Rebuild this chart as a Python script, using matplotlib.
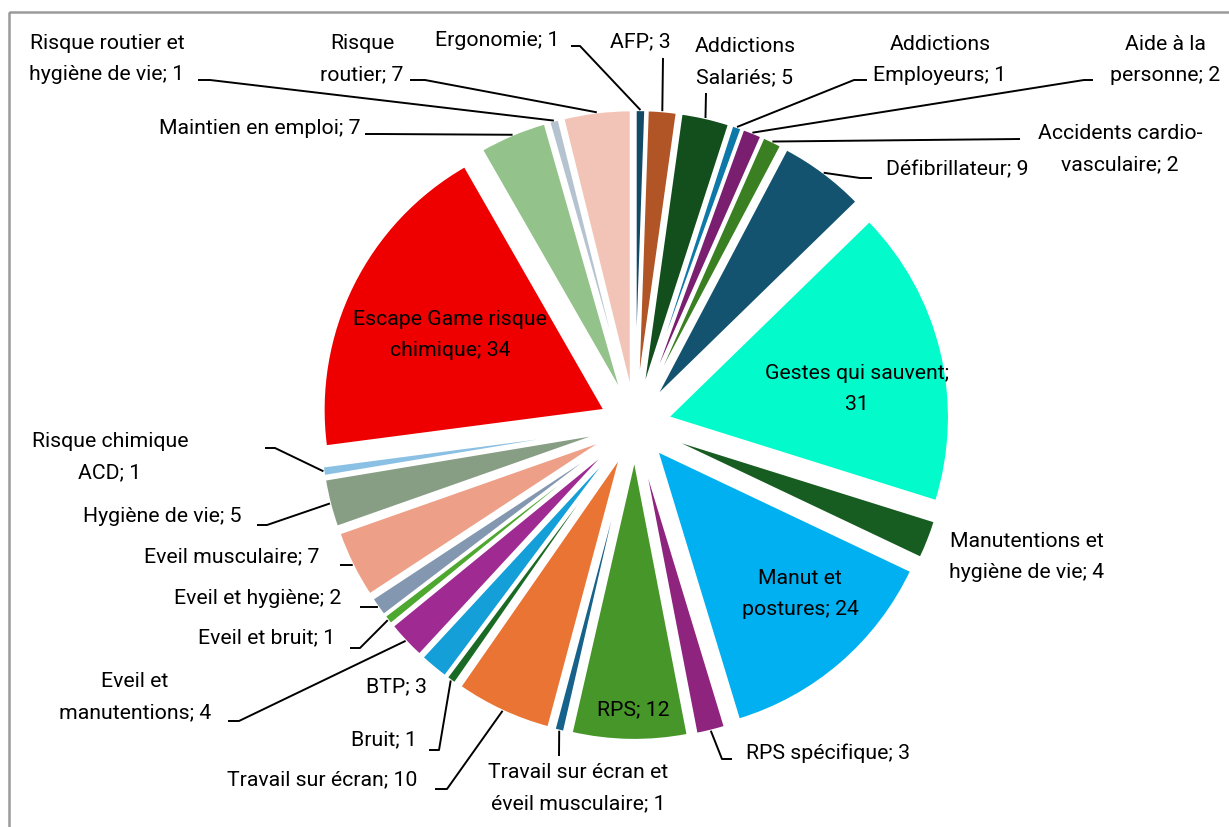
import matplotlib
matplotlib.use("Agg")
import matplotlib.pyplot as plt
from matplotlib.patches import Rectangle
import numpy as np

# ---------------- data ----------------
categories = [
    "Ergonomie", "AFP", "Addictions Salariés", "Addictions Employeurs",
    "Aide à la personne", "Accidents cardio-vasculaire", "Défibrillateur",
    "Gestes qui sauvent", "Manutentions et hygiène de vie", "Manut et postures",
    "RPS spécifique", "RPS", "Travail sur écran et éveil musculaire",
    "Travail sur écran", "Bruit", "BTP", "Eveil et manutentions",
    "Eveil et bruit", "Eveil et hygiène", "Eveil musculaire", "Hygiène de vie",
    "Risque chimique ACD", "Escape Game risque chimique", "Maintien en emploi",
    "Risque routier et hygiène de vie", "Risque routier",
]
values = [1, 3, 5, 1, 2, 2, 9, 31, 4, 24, 3, 12, 1, 10, 1, 3, 4, 1, 2, 7, 5, 1, 34, 7, 1, 7]

# label text as displayed (line breaks as in the chart)
label_texts = [
    "Ergonomie; 1", "AFP; 3", "Addictions\nSalariés; 5", "Addictions\nEmployeurs; 1",
    "Aide à la\npersonne; 2", "Accidents cardio-\nvasculaire; 2", "Défibrillateur; 9",
    "Gestes qui sauvent;\n31", "Manutentions et\nhygiène de vie; 4", "Manut et\npostures; 24",
    "RPS spécifique; 3", "RPS; 12", "Travail sur écran et\néveil musculaire; 1",
    "Travail sur écran; 10", "Bruit; 1", "BTP; 3", "Eveil et\nmanutentions; 4",
    "Eveil et bruit; 1", "Eveil et hygiène; 2", "Eveil musculaire; 7", "Hygiène de vie; 5",
    "Risque chimique\nACD; 1", "Escape Game risque\nchimique; 34", "Maintien en emploi; 7",
    "Risque routier et\nhygiène de vie; 1", "Risque\nroutier; 7",
]

colors = [
    "#124A68", "#B15527", "#124F1C", "#0E78A8", "#7A1E70", "#3A7F22", "#14536F",
    "#03FBCB", "#175D21", "#00B0F0", "#8F247F", "#46962A", "#17628A", "#EA7433",
    "#196A24", "#149FD8", "#9F2A92", "#4EA72E", "#8497B0", "#EE9F87", "#879E85",
    "#8AC0E3", "#EE0000", "#93C28A", "#B5C3D0", "#F2C4B8",
]

# ---------------- layout (pixel space, y measured from top) ----------------
W, H = 1229, 827
CX, CY = 635, 425
R = 281
EXPL = 34

# label placement: (x, y) centre of text in px, leader points (start, elbow) or None
label_layout = [
    ((497, 40), [(571, 46), (580, 46)]),
    ((640, 42), [(663, 58)]),
    ((745, 62), [(706, 93)]),
    ((940, 60), [(867, 80), (854, 80)]),
    ((1165, 60), [(1093, 80), (1084, 80)]),
    ((1120, 149), [(1020, 139)]),
    ((957, 170), [(872, 178), (860, 178)]),
    ((857, 389), None),
    ((1027, 557), None),
    ((800, 594), None),
    ((828, 753), [(732, 759), (722, 759)]),
    ((633, 710), None),
    ((578, 788), [(559, 756)]),
    ((322, 780), [(435, 789), (447, 789)]),
    ((384, 740), [(429, 750), (439, 750)]),
    ((396, 687), None),
    ((135, 697), [(228, 721), (239, 721)]),
    ((267, 638), [(350, 648), (360, 648)]),
    ((258, 598), [(360, 607), (377, 607)]),
    ((232, 557), [(340, 565), (352, 565)]),
    ((162, 517), [(257, 525), (267, 525)]),
    ((110, 457), [(265, 448), (275, 448)]),
    ((450, 335), None),
    ((260, 128), [(365, 134), (378, 134)]),
    ((107, 59), [(198, 80), (210, 80)]),
    ((362, 59), [(410, 80), (425, 80)]),
]

FONT = ["Roboto", "DejaVu Sans"]
FS = 15.3

def Y(y):
    return H - y

fig = plt.figure(figsize=(W / 100, H / 100), dpi=100)
ax = fig.add_axes([0, 0, 1, 1])

wedges, _ = ax.pie(
    values, colors=colors, startangle=90, counterclock=False,
    radius=R, center=(CX, Y(CY)), explode=[EXPL] * len(values),
    wedgeprops=dict(edgecolor="white", linewidth=1.6),
)

ax.set_xlim(0, W)
ax.set_ylim(0, H)
ax.set_aspect("auto")
ax.axis("off")

# chart border
ax.add_patch(Rectangle((9, Y(12)), W + 20, -(H + 20), fill=False,
                       edgecolor="#9a9a9a", linewidth=1.8, clip_on=False))

for w, txt, (pos, leader) in zip(wedges, label_texts, label_layout):
    ax.text(pos[0], Y(pos[1]), txt, ha="center", va="center", fontsize=FS,
            family=FONT, color="black", linespacing=1.85)
    if leader is not None:
        tm = np.deg2rad((w.theta1 + w.theta2) / 2)
        ex = w.center[0] + w.r * np.cos(tm)
        ey = w.center[1] + w.r * np.sin(tm)
        xs = [p[0] for p in leader] + [ex]
        ys = [Y(p[1]) for p in leader] + [ey]
        ax.plot(xs, ys, color="black", linewidth=1.4, solid_capstyle="butt")

fig.savefig("out.png", dpi=100, facecolor="white")
